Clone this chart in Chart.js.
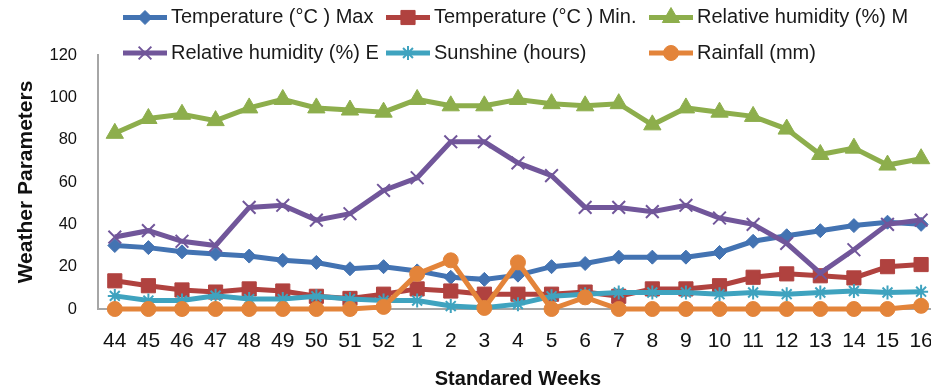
<!DOCTYPE html>
<html>
<head>
<meta charset="utf-8">
<script src="https://cdn.jsdelivr.net/npm/chart.js@4/dist/chart.umd.min.js"></script>
<style>
  html, body { margin: 0; padding: 0; background: #fff; overflow: hidden; }
  #wrap { width: 931px; height: 391px; overflow: hidden; position: relative; }
  canvas { display: block; }
</style>
</head>
<body>
<div id="wrap"><canvas id="c" width="953" height="391"></canvas></div>
<script>
const weeks = ['44','45','46','47','48','49','50','51','52','1','2','3','4','5','6','7','8','9','10','11','12','13','14','15','16'];
const tempMax = [30,29,27,26,25,23,22,19,20,18,15,14,16,20,21.5,24.5,24.5,24.5,26.7,32,34.6,37,39.4,41,40];
const tempMin = [13.3,11,9,8,9.5,8.5,6,5,7,9.5,8.5,7,7,7,8,6,9.5,9.5,11,15,16.6,15.7,14.7,20,21];
const rhMorning = [83,90,92,89,95,99,95,94,93,99,96,96,99,97,96,97,87,95,93,91,85,73,76,68,71];
const rhEvening = [34,37,32,30,48,49,42,45,56,62,79,79,69,63,48,48,46,49,43,40,31,17,28,40,42];
const sunshine = [6.2,4,4,6.3,4.7,4.7,6,4.7,4,4,1.4,0.6,2.3,6,7,7.8,7.8,7.8,7,7.8,7,7.8,8.5,7.8,8.2];
const rainfall = [0,0,0,0,0,0,0,0,1,16.6,23,0.5,22,0,5.5,0,0,0,0,0,0,0,0,0,1.5];
const yTicks = [0,20,40,60,80,100,120];

const seriesNames = ['Temperature (\u00B0C ) Max','Temperature (\u00B0C ) Min.','Relative humidity (%) M','Relative humidity (%) E','Sunshine (hours)','Rainfall (mm)'];
const seriesData = [tempMax, tempMin, rhMorning, rhEvening, sunshine, rainfall];
const seriesColors = ['#4373B2','#B0423F','#8DAE4C','#71569A','#3FA3BF','#E3843A'];
const seriesStyles = ['rectRot','rect','triangle','crossRot','star','circle'];
const seriesRadius = [7,10,10,9,7,7.5];
const seriesBorder = [1,1,1,2,2,1];

const datasets = seriesNames.map((n, i) => ({
  label: n,
  data: seriesData[i],
  borderColor: seriesColors[i],
  backgroundColor: seriesColors[i],
  borderWidth: 5,
  tension: 0,
  pointStyle: seriesStyles[i],
  pointRadius: seriesRadius[i],
  pointBorderWidth: seriesBorder[i],
  pointBackgroundColor: seriesColors[i],
  pointBorderColor: seriesColors[i],
  order: 6 - i,
  clip: false
}));

const legendPlugin = {
  id: 'gridLegend',
  afterDraw(chart) {
    const ctx = chart.ctx;
    const cols = [123, 386, 649];
    const rows = [17.5, 53];
    ctx.save();
    seriesNames.forEach((n, i) => {
      const x0 = cols[i % 3];
      const y = rows[Math.floor(i / 3)];
      ctx.strokeStyle = seriesColors[i];
      ctx.fillStyle = seriesColors[i];
      ctx.lineWidth = 5;
      ctx.lineCap = 'butt';
      ctx.beginPath();
      ctx.moveTo(x0, y);
      ctx.lineTo(x0 + 44, y);
      ctx.stroke();
      ctx.lineWidth = seriesBorder[i];
      Chart.helpers.drawPoint(ctx, {
        pointStyle: seriesStyles[i],
        radius: seriesRadius[i],
        rotation: 0,
        borderWidth: seriesBorder[i]
      }, x0 + 22, y);
      ctx.fillStyle = '#1a1a1a';
      ctx.font = '20px "Liberation Sans", Arial, sans-serif';
      ctx.textBaseline = 'middle';
      ctx.textAlign = 'left';
      ctx.fillText(n, x0 + 48, y);
    });
    ctx.restore();
  }
};

new Chart(document.getElementById('c'), {
  type: 'line',
  data: { labels: weeks, datasets },
  plugins: [legendPlugin],
  options: {
    responsive: false,
    animation: false,
    devicePixelRatio: 1,
    layout: { padding: { top: 55, right: 2, bottom: 0, left: 0 } },
    plugins: { legend: { display: false }, tooltip: { enabled: false } },
    scales: {
      x: {
        offset: true,
        afterFit(scale) { scale.height = 82; },
        grid: { display: false, drawTicks: false },
        border: { display: true, color: '#A6A6A6', width: 2 },
        ticks: {
          padding: 20,
          color: '#111',
          autoSkip: false,
          maxRotation: 0,
          font: { family: '"Liberation Sans", Arial, sans-serif', size: 21 }
        },
        title: {
          display: true,
          text: 'Standared Weeks',
          color: '#111',
          padding: { top: 15, bottom: 0 },
          font: { family: '"Liberation Sans", Arial, sans-serif', size: 20, weight: 'bold' }
        }
      },
      y: {
        min: 0,
        max: 120,
        afterFit(scale) { scale.width = 98; },
        afterBuildTicks(scale) { scale.ticks = yTicks.map(v => ({ value: v })); },
        grid: { display: false, drawTicks: false },
        border: { display: true, color: '#A6A6A6', width: 2 },
        ticks: {
          padding: 21,
          color: '#111',
          font: { family: '"Liberation Sans", Arial, sans-serif', size: 16.5 }
        },
        title: {
          display: true,
          text: 'Weather Parameters',
          color: '#111',
          padding: { top: 14, bottom: 10 },
          font: { family: '"Liberation Sans", Arial, sans-serif', size: 21, weight: 'bold' }
        }
      }
    }
  }
});
</script>
</body>
</html>
